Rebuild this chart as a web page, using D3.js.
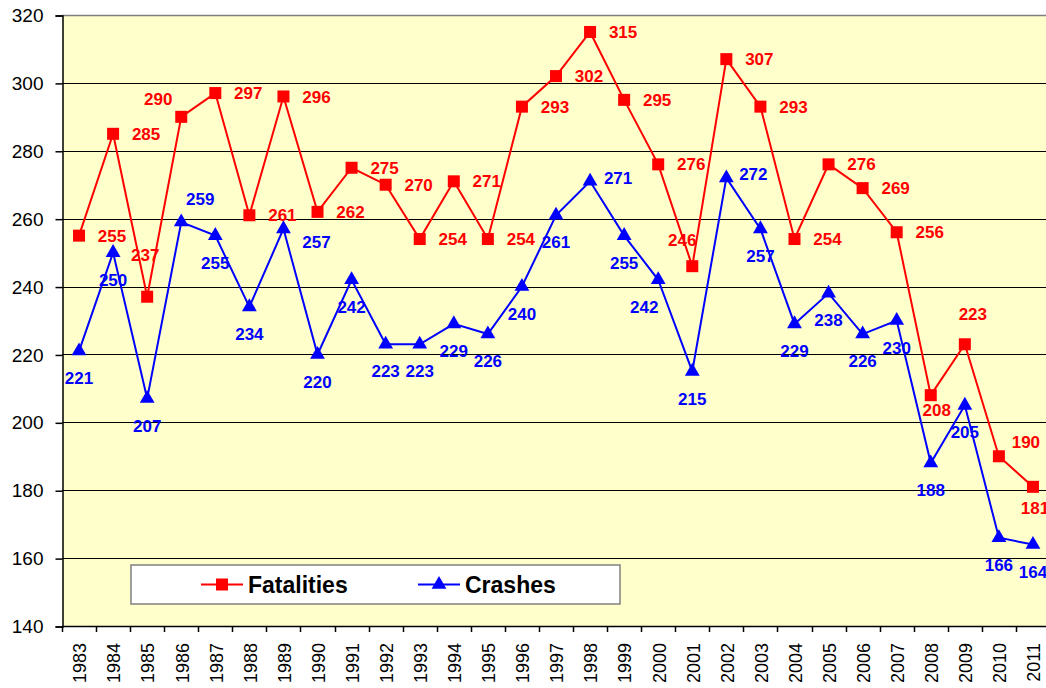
<!DOCTYPE html>
<html lang="en">
  <head>
    <meta charset="utf-8">
    <title>Fatalities and Crashes</title>
    <script type="text/javascript" src="https://cdn.jsdelivr.net/npm/d3@7"></script>
    <style>
      body { margin: 0; background: #fff; }
      svg { display: block; }
    </style>
  </head>
  <body>
    <script type="text/javascript">
      // Data
      var years = [1983, 1984, 1985, 1986, 1987, 1988, 1989, 1990, 1991, 1992,
                   1993, 1994, 1995, 1996, 1997, 1998, 1999, 2000, 2001, 2002,
                   2003, 2004, 2005, 2006, 2007, 2008, 2009, 2010, 2011];
      var fatalities = [255, 285, 237, 290, 297, 261, 296, 262, 275, 270,
                        254, 271, 254, 293, 302, 315, 295, 276, 246, 307,
                        293, 254, 276, 269, 256, 208, 223, 190, 181];
      var crashes = [221, 250, 207, 259, 255, 234, 257, 220, 242, 223,
                     223, 229, 226, 240, 261, 271, 255, 242, 215, 272,
                     257, 229, 238, 226, 230, 188, 205, 166, 164];
      var yTicks = [140, 160, 180, 200, 220, 240, 260, 280, 300, 320];
      var seriesNames = ["Fatalities", "Crashes"];

      // Label placement (pixel shifts from the point), default plus exceptions
      var fatalShiftDefault = [33, 0];
      var fatalShift = {1985: [-2, -42], 1986: [-23, -18], 2001: [-10, -26],
                        2008: [6, 15], 2009: [8, -30], 2010: [27, -14], 2011: [2, 21]};
      var crashShiftDefault = [0, 27];
      var crashShift = {1986: [19, -23], 1989: [33, 13], 1998: [28, -3],
                        2000: [-14, 27], 2002: [27, -4]};

      // Plot area
      var W = 1046, H = 688;
      var pLeft = 62, pRight = 1050, pTop = 15, pBottom = 626;
      var font = "'Liberation Sans', Arial, sans-serif";

      var svg = d3.select("body").append("svg")
                  .attr("width", W)
                  .attr("height", H);

      var x = d3.scaleBand().domain(years).range([pLeft, pRight]);
      var y = d3.scaleLinear().domain([140, 320]).range([pBottom, pTop]);
      var cx = function(d) { return x(d) + x.bandwidth() / 2; };

      svg.append("rect")
         .attr("x", pLeft).attr("y", pTop)
         .attr("width", pRight - pLeft).attr("height", pBottom - pTop)
         .attr("fill", "#FFFFCC");

      // Gridlines
      svg.append("g").selectAll("line")
         .data(yTicks.filter(function(t) { return t > 140 && t < 320; }))
         .enter().append("line")
         .attr("x1", pLeft).attr("x2", pRight)
         .attr("y1", function(d) { return Math.round(y(d)) + 0.5; })
         .attr("y2", function(d) { return Math.round(y(d)) + 0.5; })
         .attr("stroke", "#000").attr("stroke-width", 1);

      // top border
      svg.append("line")
         .attr("x1", pLeft).attr("x2", pRight)
         .attr("y1", pTop + 0.5).attr("y2", pTop + 0.5)
         .attr("stroke", "#808080").attr("stroke-width", 1.5);

      // Y axis
      var yAxis = svg.append("g")
         .attr("transform", "translate(" + (pLeft + 0.5) + ",0.5)")
         .call(d3.axisLeft(y).tickValues(yTicks).tickSize(7).tickPadding(12));
      yAxis.select(".domain").attr("stroke", "#000").attr("stroke-width", 1.5);
      yAxis.selectAll(".tick line").attr("stroke", "#000").attr("stroke-width", 1.5);
      yAxis.selectAll("text")
           .attr("font-family", font).attr("font-size", "19px").attr("fill", "#000");

      // X axis: ticks at band boundaries
      var xg = svg.append("g");
      xg.append("line")
        .attr("x1", pLeft).attr("x2", pRight)
        .attr("y1", pBottom + 0.5).attr("y2", pBottom + 0.5)
        .attr("stroke", "#000").attr("stroke-width", 1.5);
      xg.selectAll(".tk")
        .data(years.concat(["end"]))
        .enter().append("line")
        .attr("x1", function(d, i) { return Math.round(pLeft + i * x.step()) + 0.5; })
        .attr("x2", function(d, i) { return Math.round(pLeft + i * x.step()) + 0.5; })
        .attr("y1", pBottom).attr("y2", pBottom + 6)
        .attr("stroke", "#000").attr("stroke-width", 1.5);
      xg.selectAll(".yr")
        .data(years)
        .enter().append("text")
        .attr("transform", function(d) { return "translate(" + (cx(d) + 1) + "," + (pBottom + 17) + ") rotate(-90)"; })
        .attr("text-anchor", "end")
        .attr("dy", "0.35em")
        .attr("font-family", font).attr("font-size", "18px").attr("fill", "#000")
        .text(function(d) { return d; });

      // Lines
      var seriesLine = d3.line()
                        .x(function(d, i) { return cx(years[i]); })
                        .y(function(d) { return y(d); });
      svg.append("path").datum(fatalities)
         .attr("d", seriesLine)
         .attr("fill", "none").attr("stroke", "#FF0000").attr("stroke-width", 2);
      svg.append("path").datum(crashes)
         .attr("d", seriesLine)
         .attr("fill", "none").attr("stroke", "#0000FF").attr("stroke-width", 2);

      // Markers
      var sq = 12;
      svg.append("g").selectAll("rect")
         .data(fatalities)
         .enter().append("rect")
         .attr("x", function(d, i) { return cx(years[i]) - sq / 2; })
         .attr("y", function(d) { return y(d) - sq / 2; })
         .attr("width", sq).attr("height", sq)
         .attr("fill", "#FF0000");

      var tri = d3.symbol().type(d3.symbolTriangle).size(95);
      svg.append("g").selectAll("path")
         .data(crashes)
         .enter().append("path")
         .attr("d", tri)
         .attr("transform", function(d, i) { return "translate(" + cx(years[i]) + "," + y(d) + ")"; })
         .attr("fill", "#0000FF");

      // Data labels
      var addLabels = function(values, shifts, def, color) {
        svg.append("g").selectAll("text")
           .data(values)
           .enter().append("text")
           .attr("x", function(d, i) { var s = shifts[years[i]] || def; return cx(years[i]) + s[0]; })
           .attr("y", function(d, i) { var s = shifts[years[i]] || def; return y(d) + s[1]; })
           .attr("text-anchor", "middle")
           .attr("dy", "0.36em")
           .attr("font-family", font).attr("font-size", "17px").attr("font-weight", "bold")
           .attr("fill", color)
           .text(function(d) { return d; });
      };
      addLabels(fatalities, fatalShift, fatalShiftDefault, "#FF0000");
      addLabels(crashes, crashShift, crashShiftDefault, "#0000FF");

      // Legend
      var lg = svg.append("g");
      lg.append("rect")
        .attr("x", 131).attr("y", 565)
        .attr("width", 489).attr("height", 39)
        .attr("fill", "#fff").attr("stroke", "#808080").attr("stroke-width", 1.5);
      var legendItems = [
        {name: seriesNames[0], color: "#FF0000", x0: 201, tx: 248, marker: "square"},
        {name: seriesNames[1], color: "#0000FF", x0: 418, tx: 465, marker: "triangle"}
      ];
      legendItems.forEach(function(it) {
        var ly = 584.5;
        lg.append("line")
          .attr("x1", it.x0).attr("x2", it.x0 + 42)
          .attr("y1", ly).attr("y2", ly)
          .attr("stroke", it.color).attr("stroke-width", 2);
        if (it.marker == "square") {
          lg.append("rect")
            .attr("x", it.x0 + 21 - sq / 2).attr("y", ly - sq / 2)
            .attr("width", sq).attr("height", sq)
            .attr("fill", it.color);
        } else {
          lg.append("path")
            .attr("d", tri)
            .attr("transform", "translate(" + (it.x0 + 21) + "," + ly + ")")
            .attr("fill", it.color);
        }
        lg.append("text")
          .attr("x", it.tx).attr("y", ly)
          .attr("dy", "0.36em")
          .attr("font-family", font).attr("font-size", "23px").attr("font-weight", "bold")
          .attr("fill", "#000")
          .text(it.name);
      });
    </script>
  </body>
</html>
